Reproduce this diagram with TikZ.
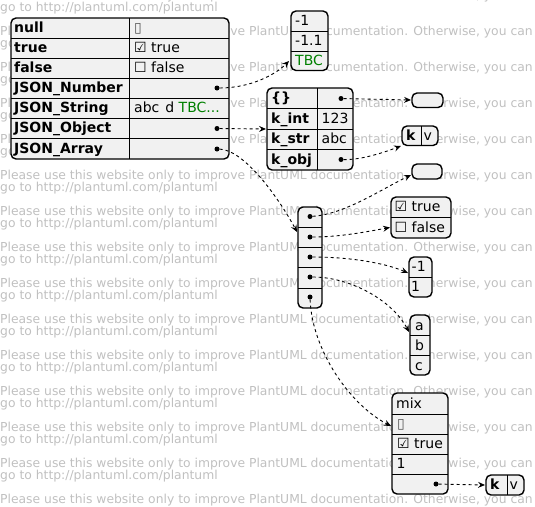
\documentclass[tikz,border=0pt]{standalone}
\usepackage{fontspec}
\setmainfont{DejaVu Sans}
\usepackage{xcolor}
\usepackage{tikz}
\usetikzlibrary{arrows.meta}
\definecolor{fondgris}{HTML}{F1F1F1}
\definecolor{vertpuml}{HTML}{008000}
\definecolor{gristexte}{HTML}{C0C0C0}
\definecolor{grisvide}{HTML}{555555}

\begin{document}
\begin{tikzpicture}[x=1pt, y=-1pt,
    every node/.style={inner sep=0pt, font=\fontsize{14}{16}\selectfont},
    cle/.style={anchor=base west, font=\fontsize{14}{16}\selectfont\bfseries},
    val/.style={anchor=base west},
    filigrane/.style={anchor=base west, text=gristexte, font=\fontsize{12.35}{14}\selectfont},
    boite/.style={draw=black, line width=1.4pt, fill=fondgris, rounded corners=5pt},
    sep/.style={draw=black, line width=0.9pt},
    point/.style={circle, fill=black, minimum size=5pt},
    lien/.style={line width=0.9pt, dash pattern=on 3pt off 3pt, -{Stealth[length=7pt, width=6pt, inset=2.5pt]}}]
    \useasboundingbox (0,0) rectangle (535,506);

    % Filigrane
    \foreach \k in {0,...,14}
        \node[filigrane] (pl\k) at (0,{-1+36*\k}) {Please use this website only to improve PlantUML documentation. Otherwise, you can};
    \foreach \k in {0,...,13}
        \node[filigrane] (go\k) at (0,{11+36*\k}) {go to http://plantuml.com/plantuml};

    % Table principale
    \draw[boite] (11,18) rectangle (229,159);
    \foreach \y in {38.15,58.3,78.45,98.6,118.75,138.9}
        \draw[sep] (11,\y) -- (229,\y);
    \draw[sep] (129,18) -- (129,159);
    \node[cle] (knull) at (14,32.2) {null};
    \node[cle] (ktrue) at (14,52.35) {true};
    \node[cle] (kfalse) at (14,72.5) {false};
    \node[cle] (knum) at (14,92.65) {JSON\_Number};
    \node[cle] (kstr) at (14,112.8) {JSON\_String};
    \node[cle] (kobj) at (14,132.95) {JSON\_Object};
    \node[cle] (karr) at (14,153.1) {JSON\_Array};
    \node[val, text=grisvide] (vnull) at (134,32.2) {▯};
    \node[val] (vtrue) at (134,52.35) {☑ true};
    \node[val] (vfalse) at (134,72.5) {☐ false};
    \node[val] (vstr) at (134,112.8) {abc\hspace{6pt}d \textcolor{vertpuml}{TBC...}};
    \node[point] (pnum) at (217,88) {};
    \node[point] (pobj) at (217,128.5) {};
    \node[point] (parr) at (217,149) {};

    % Nombres
    \draw[boite] (291,11) rectangle (328,70.5);
    \draw[sep] (291,31) -- (328,31);
    \draw[sep] (291,51) -- (328,51);
    \node[val] (nb1) at (295,25) {-1};
    \node[val] (nb2) at (295,45) {-1.1};
    \node[val, text=vertpuml] (nb3) at (295,65.5) {TBC};

    % Objet
    \draw[boite] (267,88) rectangle (353,170);
    \foreach \y in {108.5,129,149.5}
        \draw[sep] (267,\y) -- (353,\y);
    \draw[sep] (317,88) -- (317,170);
    \node[cle] (kvide) at (271,102.5) {\{\}};
    \node[cle] (kint) at (271,123) {k\_int};
    \node[cle] (kstr2) at (271,143.5) {k\_str};
    \node[cle] (kobj2) at (271,164) {k\_obj};
    \node[val] (vint) at (321.5,123) {123};
    \node[val] (vstr2) at (321.5,143.5) {abc};
    \node[point] (pvide) at (341,98.5) {};
    \node[point] (pkobj) at (341,159.5) {};

    % Objets vides et paires
    \draw[boite] (412,93) rectangle (443,107.5);
    \draw[boite] (402,126) rectangle (438,145.5);
    \draw[sep] (421,126) -- (421,145.5);
    \node[cle] (kk1) at (406,140) {k};
    \node[val] (vv1) at (423.5,140) {v};

    % Tableau
    \draw[boite] (298,207) rectangle (322,308);
    \foreach \y in {227,247,267,288}
        \draw[sep] (298,\y) -- (322,\y);
    \node[point] (pa1) at (310,216.5) {};
    \node[point] (pa2) at (310,237) {};
    \node[point] (pa3) at (310,257) {};
    \node[point] (pa4) at (310,277) {};
    \node[point] (pa5) at (310,297) {};

    \draw[boite] (412,164) rectangle (442,179);
    \draw[boite] (391,197) rectangle (451,238);
    \draw[sep] (391,217) -- (451,217);
    \node[val] (btrue) at (394.5,211.5) {☑ true};
    \node[val] (bfalse) at (394.5,232) {☐ false};

    \draw[boite] (409,257) rectangle (432,297);
    \draw[sep] (409,277) -- (432,277);
    \node[val] (nm1) at (411.5,271.5) {-1};
    \node[val] (nm2) at (411,291.5) {1};

    \draw[boite] (410,315) rectangle (430,375);
    \draw[sep] (410,335) -- (430,335);
    \draw[sep] (410,355) -- (430,355);
    \node[val] (la) at (415,330) {a};
    \node[val] (lb) at (415,350) {b};
    \node[val] (lc) at (415,370) {c};

    % Mix
    \draw[boite] (392,393) rectangle (448,494);
    \foreach \y in {414,434,454,474}
        \draw[sep] (392,\y) -- (448,\y);
    \node[val] (mtitre) at (396,408) {mix};
    \node[val, text=grisvide] (mnull) at (397,428.5) {▯};
    \node[val] (mtrue) at (397,448.5) {☑ true};
    \node[val] (mun) at (396.5,468.5) {1};
    \node[point] (pmix) at (436,484) {};
    \draw[boite] (486,475) rectangle (524,495);
    \draw[sep] (507,475) -- (507,495);
    \node[cle] (kk2) at (490,489) {k};
    \node[val] (vv2) at (509.5,489) {v};

    % Liens
    \coordinate (anum) at (289,61);
    \coordinate (aobj) at (266,129);
    \coordinate (aarr) at (297,232);
    \coordinate (avide) at (411,100);
    \coordinate (akv) at (401,146);
    \coordinate (avide2) at (411,175);
    \coordinate (abool) at (390,227.5);
    \coordinate (anum2) at (408,273);
    \coordinate (aabc) at (409,332);
    \coordinate (amix) at (391,426);
    \coordinate (akv2) at (485,485);
    \draw[lien] (pnum) .. controls (250,88) and (275,75) .. (anum);
    \draw[lien] (pobj) -- (aobj);
    \draw[lien] (parr) .. controls (245,150) and (280,200) .. (aarr);
    \draw[lien] (pvide) -- (avide);
    \draw[lien] (pkobj) .. controls (362,160) and (385,152) .. (akv);
    \draw[lien] (pa1) .. controls (345,214) and (380,190) .. (avide2);
    \draw[lien] (pa2) .. controls (340,237) and (365,232) .. (abool);
    \draw[lien] (pa3) .. controls (350,257) and (385,263) .. (anum2);
    \draw[lien] (pa4) .. controls (350,277) and (392,300) .. (aabc);
    \draw[lien] (pa5) .. controls (312,350) and (350,405) .. (amix);
    \draw[lien] (pmix) -- (akv2);
\end{tikzpicture}
\end{document}
